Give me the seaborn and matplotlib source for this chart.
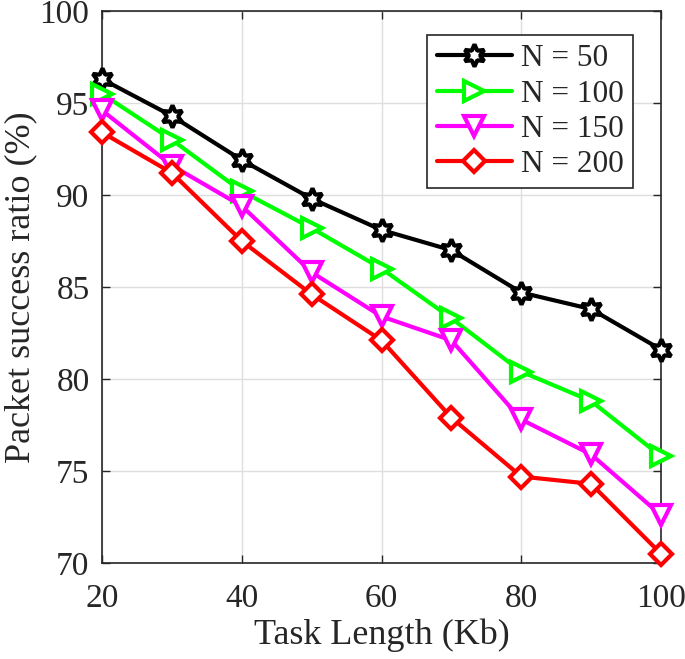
import matplotlib
matplotlib.use("Agg")

import pandas as pd
import matplotlib.pyplot as plt
import seaborn as sns

# task length (Kb) on the x axis
task_length = [20, 30, 40, 50, 60, 70, 80, 90, 100]

# packet success ratio (%) for each node count
n50 = [96.3, 94.3, 91.9, 89.8, 88.1, 87.0, 84.7, 83.8, 81.6]
n100 = [95.5, 93.0, 90.2, 88.2, 86.0, 83.3, 80.4, 78.8, 75.8]
n150 = [94.6, 91.6, 89.4, 85.8, 83.4, 82.1, 77.8, 75.9, 72.6]
n200 = [93.4, 91.2, 87.5, 84.6, 82.1, 77.9, 74.7, 74.3, 70.5]

labels = ["N = 50", "N = 100", "N = 150", "N = 200"]
colors = ["#000000", "#00ff00", "#ff00ff", "#ff0000"]
markers = [(6, 1, 0), ">", "v", "D"]
sizes = [16, 15, 15, 11]

sns.set_theme(style="whitegrid")
plt.rcParams["font.family"] = ["Liberation Serif", "DejaVu Serif"]

fig = plt.figure(figsize=(6.85, 6.59), dpi=100)
ax = fig.add_axes([102 / 685, 1 - 563 / 659, 559 / 685, 552 / 659])

for vals, lab, col, mk, ms in zip([n50, n100, n150, n200], labels, colors, markers, sizes):
    df = pd.DataFrame({"x": task_length, "y": vals})
    sns.lineplot(data=df, x="x", y="y", ax=ax, color=col, label=lab,
                 linewidth=3, marker=mk, markersize=ms,
                 markerfacecolor="white", markeredgecolor=col,
                 markeredgewidth=3, clip_on=False, zorder=3)

ax.set_xlim(20, 100)
ax.set_ylim(70, 100)
ax.set_xticks([20, 40, 60, 80, 100])
ax.set_yticks([70, 75, 80, 85, 90, 95, 100])
ax.set_xlabel("Task Length (Kb)", fontsize=26, color="#262626", labelpad=3)
ax.set_ylabel("Packet success ratio (%)", fontsize=26, color="#262626", labelpad=2)
ax.tick_params(axis="both", labelsize=24, direction="in", length=6, width=1,
               colors="#262626", top=True, right=True, bottom=True, left=True)
ax.tick_params(axis="x", pad=15)
ax.tick_params(axis="y", pad=9)
ax.grid(True, color="#dedede", linewidth=1)
for s in ax.spines.values():
    s.set_color("#262626")
    s.set_linewidth(1.2)
    s.set_visible(True)

leg = ax.legend(loc="upper right", fontsize=22.5, frameon=True, fancybox=False,
                edgecolor="#262626", framealpha=1, borderpad=0.3,
                handlelength=2.4, labelspacing=0.2, handletextpad=0.3,
                bbox_to_anchor=(0.978, 0.985))
leg.get_frame().set_linewidth(1.2)

fig.savefig("out.png", dpi=100)
